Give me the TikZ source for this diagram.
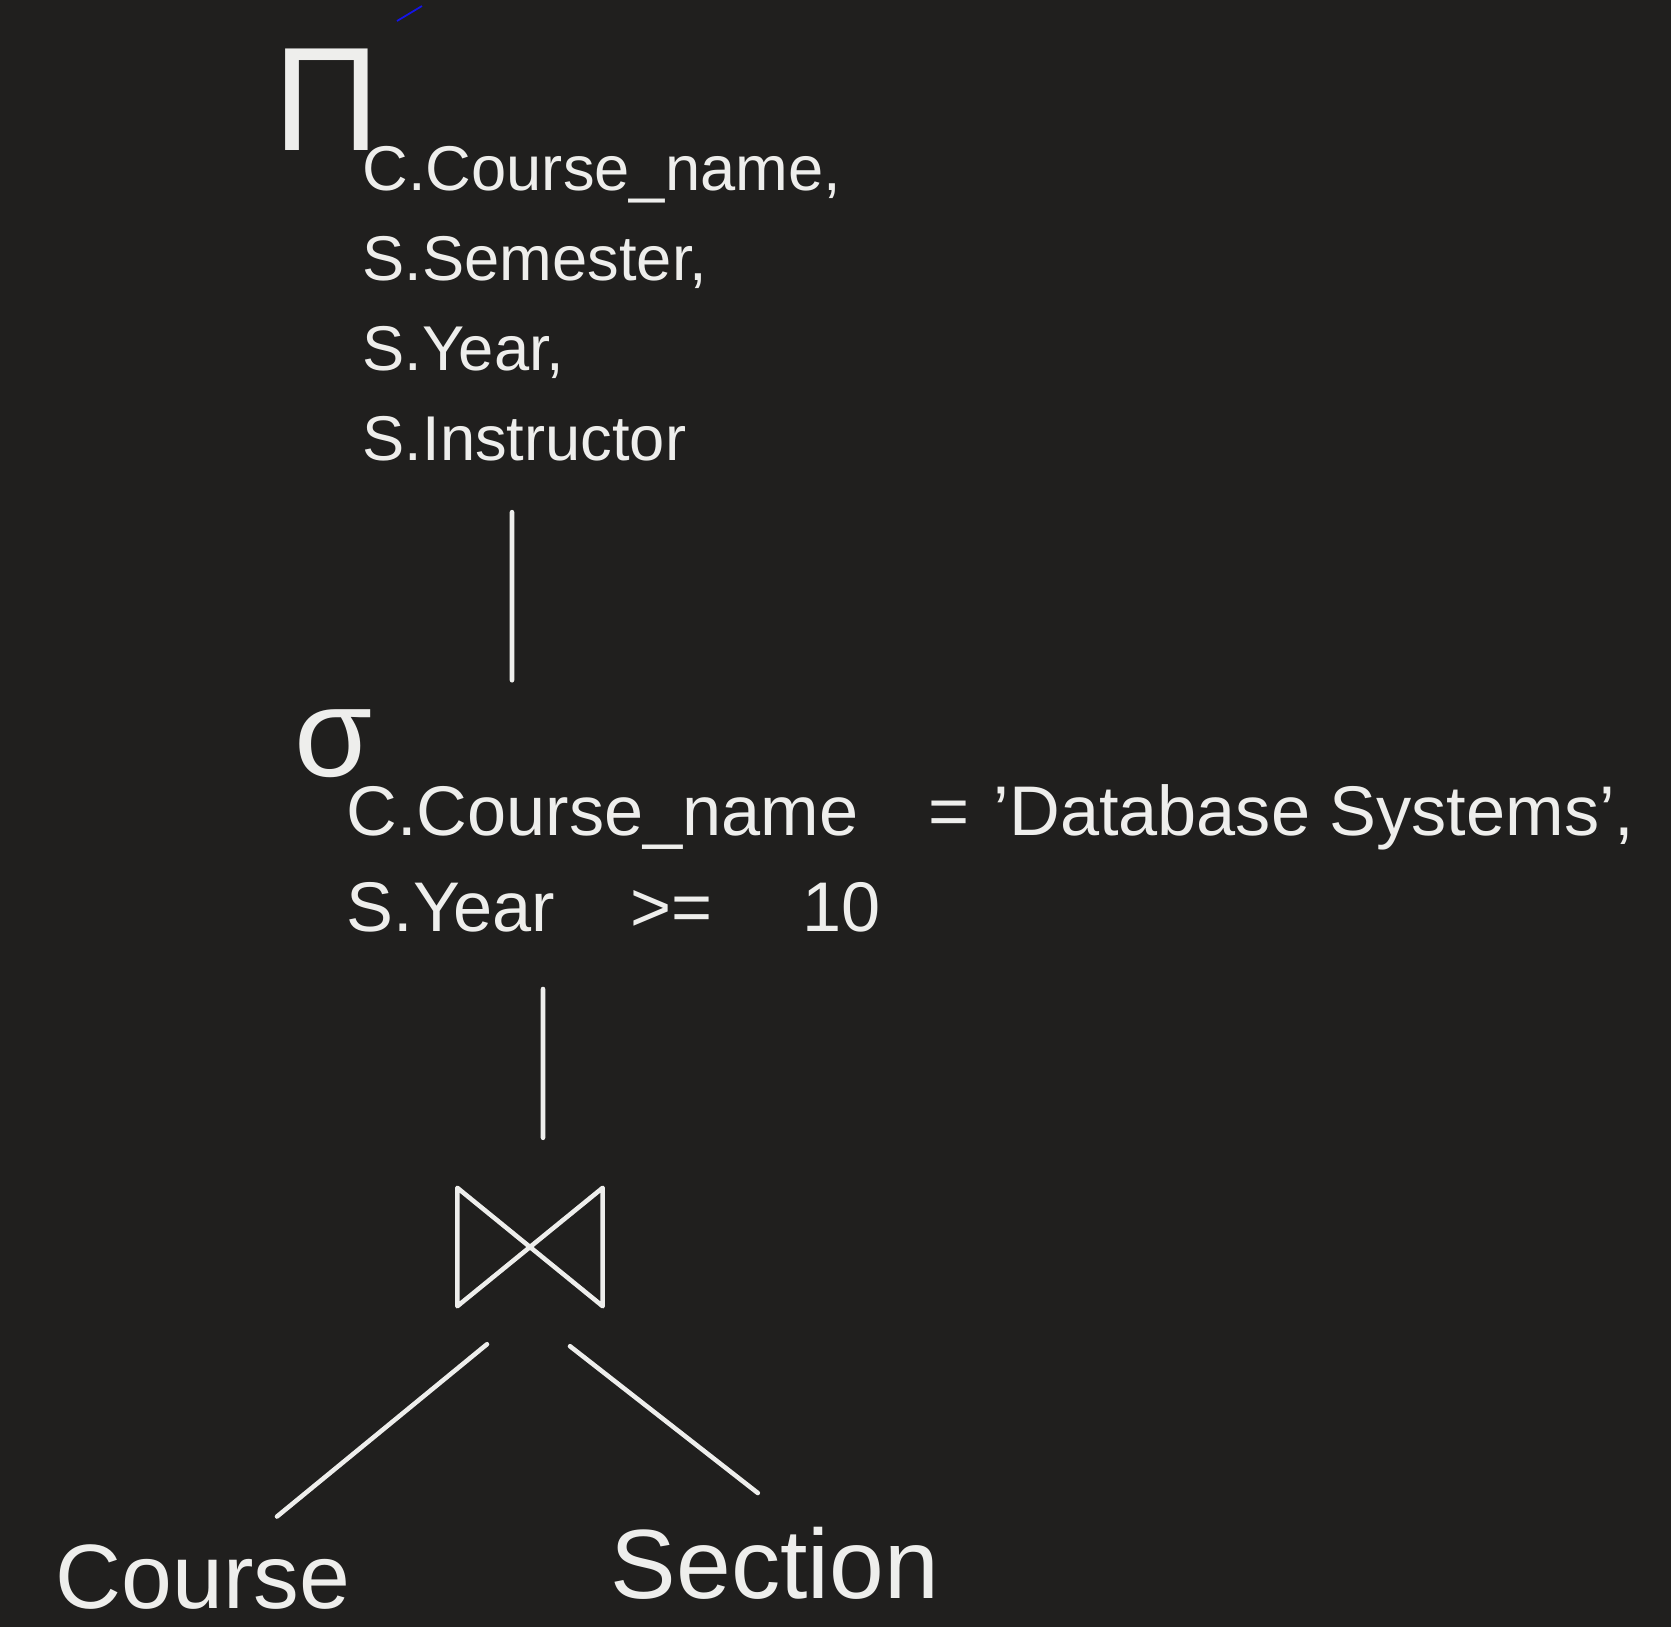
\documentclass[tikz,border=0pt]{standalone}
\usepackage{fontspec}
\setmainfont{Liberation Sans}
\definecolor{board}{HTML}{201F1E}
\definecolor{chalk}{HTML}{EEEEEC}
\definecolor{stray}{HTML}{1414E6}
\begin{document}
\begin{tikzpicture}[x=1.0cm,y=1.0cm,
  op/.style={inner sep=0pt,text=chalk},
  cond/.style={inner sep=0pt,text=chalk,align=left,anchor=north west},
  rel/.style={inner sep=0pt,text=chalk,anchor=base west},
  link/.style={draw=chalk,line width=1.3pt,line cap=round,line join=round}]
		\fill[board] (0,0) rectangle (16.71,-16.27);
		\draw[stray,line width=0.5pt] (3.97,-0.21) -- (4.22,-0.06);
		% projection
		\node[op,font=\fontsize{42}{42}\selectfont] (proj) at (3.27,-1.00) {Π};
		\node[cond,font=\fontsize{18}{25.6}\selectfont] (projlist) at (3.62,-1.46)
			{C.Course\_name,\\S.Semester,\\S.Year,\\S.Instructor};
		% selection
		\node[op,font=\fontsize{36}{36}\selectfont] (sel) at (3.34,-7.44) {σ};
		\node[cond,font=\fontsize{20}{27.3}\selectfont] (selcond) at (3.46,-7.84)
			{C.Course\_name\quad =\hspace*{0.24cm}'Database Systems',\\S.Year\hspace*{0.75cm}>=\hspace*{0.9cm}10};
		% join
		\node[inner sep=0pt,minimum width=1.44cm,minimum height=1.17cm] (join) at (5.30,-12.47) {};
		\draw[link] (join.north west) -- (join.south east) -- (join.north east) -- (join.south west) -- cycle;
		% relations
		\node[rel,font=\fontsize{26}{26}\selectfont] (course) at (0.55,-16.08) {Course};
		\node[rel,font=\fontsize{28}{28}\selectfont] (section) at (6.10,-15.98) {Section};
		\draw[link] ([xshift=1.5cm,yshift=-5mm]projlist.south west) -- ([xshift=1.78cm,yshift=2.9mm]sel.north);
		\draw[link] ([xshift=1.97cm,yshift=-5.6mm]selcond.south west) -- ([xshift=1.3mm,yshift=5mm]join.north);
		\draw[link] ([xshift=-4.3mm,yshift=-3.8mm]join.south) -- ([xshift=7.4mm,yshift=2.7mm]course.north);
		\draw[link] ([xshift=4mm,yshift=-4mm]join.south) -- ([xshift=-1.7mm,yshift=3.3mm]section.north);
\end{tikzpicture}
\end{document}
